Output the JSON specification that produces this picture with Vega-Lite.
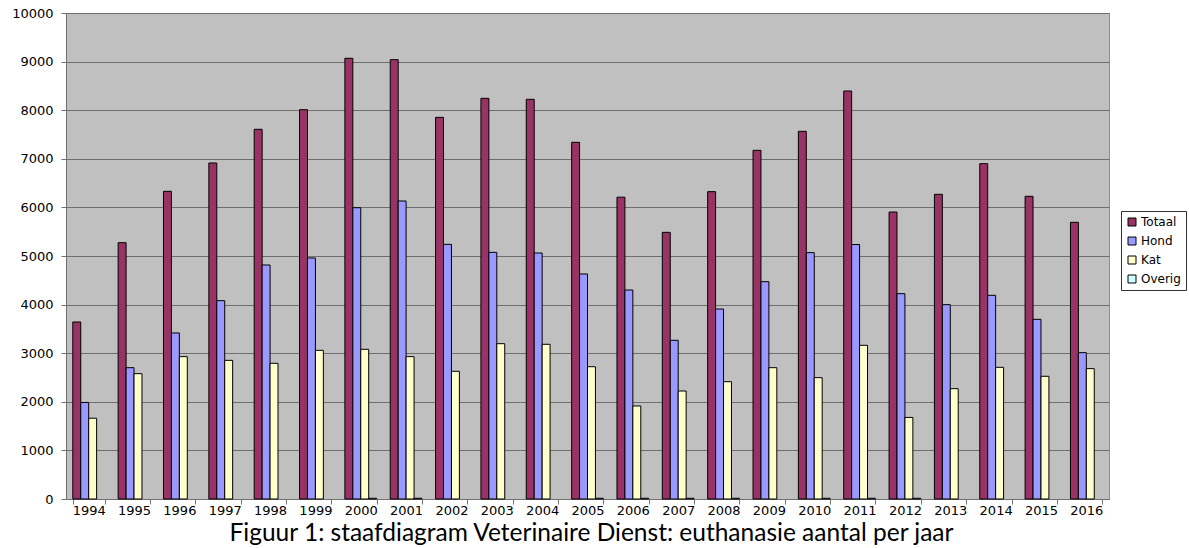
{
  "$schema": "https://vega.github.io/schema/vega-lite/v6.json",
  "width": 1043,
  "height": 486,
  "autosize": {"type": "none"},
  "padding": {"left": 66, "top": 13, "right": 80, "bottom": 49},
  "background": "white",
  "title": {
    "text": "Figuur 1: staafdiagram Veterinaire Dienst: euthanasie aantal per jaar",
    "orient": "bottom",
    "anchor": "middle",
    "font": "Lato",
    "fontSize": 24.5,
    "fontWeight": "normal",
    "color": "black",
    "offset": 5,
    "dx": 4
  },
  "config": {
    "view": {"fill": "#C0C0C0", "stroke": "#8c8c8c", "strokeWidth": 1},
    "axis": {"labelFont": "DejaVu Sans", "labelFontSize": 13, "labelColor": "black", "domainColor": "#707070", "tickColor": "#707070", "title": null}
  },
  "data": {
    "values": [
      {"jaar": "1994", "soort": "Totaal", "aantal": 3642},
      {"jaar": "1994", "soort": "Hond", "aantal": 1986},
      {"jaar": "1994", "soort": "Kat", "aantal": 1662},
      {"jaar": "1995", "soort": "Totaal", "aantal": 5274},
      {"jaar": "1995", "soort": "Hond", "aantal": 2702},
      {"jaar": "1995", "soort": "Kat", "aantal": 2579},
      {"jaar": "1996", "soort": "Totaal", "aantal": 6331},
      {"jaar": "1996", "soort": "Hond", "aantal": 3416},
      {"jaar": "1996", "soort": "Kat", "aantal": 2929},
      {"jaar": "1997", "soort": "Totaal", "aantal": 6914},
      {"jaar": "1997", "soort": "Hond", "aantal": 4081},
      {"jaar": "1997", "soort": "Kat", "aantal": 2853},
      {"jaar": "1998", "soort": "Totaal", "aantal": 7607},
      {"jaar": "1998", "soort": "Hond", "aantal": 4815},
      {"jaar": "1998", "soort": "Kat", "aantal": 2792},
      {"jaar": "1999", "soort": "Totaal", "aantal": 8011},
      {"jaar": "1999", "soort": "Hond", "aantal": 4959},
      {"jaar": "1999", "soort": "Kat", "aantal": 3059},
      {"jaar": "2000", "soort": "Totaal", "aantal": 9068},
      {"jaar": "2000", "soort": "Hond", "aantal": 5994},
      {"jaar": "2000", "soort": "Kat", "aantal": 3080},
      {"jaar": "2000", "soort": "Overig", "aantal": 15},
      {"jaar": "2001", "soort": "Totaal", "aantal": 9040},
      {"jaar": "2001", "soort": "Hond", "aantal": 6132},
      {"jaar": "2001", "soort": "Kat", "aantal": 2929},
      {"jaar": "2001", "soort": "Overig", "aantal": 15},
      {"jaar": "2002", "soort": "Totaal", "aantal": 7853},
      {"jaar": "2002", "soort": "Hond", "aantal": 5240},
      {"jaar": "2002", "soort": "Kat", "aantal": 2627},
      {"jaar": "2003", "soort": "Totaal", "aantal": 8244},
      {"jaar": "2003", "soort": "Hond", "aantal": 5075},
      {"jaar": "2003", "soort": "Kat", "aantal": 3196},
      {"jaar": "2004", "soort": "Totaal", "aantal": 8224},
      {"jaar": "2004", "soort": "Hond", "aantal": 5062},
      {"jaar": "2004", "soort": "Kat", "aantal": 3183},
      {"jaar": "2005", "soort": "Totaal", "aantal": 7339},
      {"jaar": "2005", "soort": "Hond", "aantal": 4630},
      {"jaar": "2005", "soort": "Kat", "aantal": 2722},
      {"jaar": "2005", "soort": "Overig", "aantal": 15},
      {"jaar": "2006", "soort": "Totaal", "aantal": 6210},
      {"jaar": "2006", "soort": "Hond", "aantal": 4300},
      {"jaar": "2006", "soort": "Kat", "aantal": 1914},
      {"jaar": "2006", "soort": "Overig", "aantal": 15},
      {"jaar": "2007", "soort": "Totaal", "aantal": 5487},
      {"jaar": "2007", "soort": "Hond", "aantal": 3265},
      {"jaar": "2007", "soort": "Kat", "aantal": 2222},
      {"jaar": "2007", "soort": "Overig", "aantal": 15},
      {"jaar": "2008", "soort": "Totaal", "aantal": 6324},
      {"jaar": "2008", "soort": "Hond", "aantal": 3909},
      {"jaar": "2008", "soort": "Kat", "aantal": 2414},
      {"jaar": "2008", "soort": "Overig", "aantal": 15},
      {"jaar": "2009", "soort": "Totaal", "aantal": 7174},
      {"jaar": "2009", "soort": "Hond", "aantal": 4472},
      {"jaar": "2009", "soort": "Kat", "aantal": 2702},
      {"jaar": "2010", "soort": "Totaal", "aantal": 7565},
      {"jaar": "2010", "soort": "Hond", "aantal": 5069},
      {"jaar": "2010", "soort": "Kat", "aantal": 2497},
      {"jaar": "2010", "soort": "Overig", "aantal": 15},
      {"jaar": "2011", "soort": "Totaal", "aantal": 8395},
      {"jaar": "2011", "soort": "Hond", "aantal": 5236},
      {"jaar": "2011", "soort": "Kat", "aantal": 3162},
      {"jaar": "2011", "soort": "Overig", "aantal": 15},
      {"jaar": "2012", "soort": "Totaal", "aantal": 5905},
      {"jaar": "2012", "soort": "Hond", "aantal": 4225},
      {"jaar": "2012", "soort": "Kat", "aantal": 1678},
      {"jaar": "2012", "soort": "Overig", "aantal": 15},
      {"jaar": "2013", "soort": "Totaal", "aantal": 6269},
      {"jaar": "2013", "soort": "Hond", "aantal": 3999},
      {"jaar": "2013", "soort": "Kat", "aantal": 2270},
      {"jaar": "2014", "soort": "Totaal", "aantal": 6900},
      {"jaar": "2014", "soort": "Hond", "aantal": 4191},
      {"jaar": "2014", "soort": "Kat", "aantal": 2709},
      {"jaar": "2015", "soort": "Totaal", "aantal": 6228},
      {"jaar": "2015", "soort": "Hond", "aantal": 3697},
      {"jaar": "2015", "soort": "Kat", "aantal": 2525},
      {"jaar": "2016", "soort": "Totaal", "aantal": 5693},
      {"jaar": "2016", "soort": "Hond", "aantal": 3011},
      {"jaar": "2016", "soort": "Kat", "aantal": 2682}
    ]
  },
  "mark": {"type": "bar", "stroke": "black", "strokeWidth": 1},
  "encoding": {
    "x": {
      "field": "jaar",
      "type": "nominal",
      "scale": {"paddingInner": 0.3, "paddingOuter": 0.15},
      "axis": {"labelAngle": 0, "tickBand": "extent", "tickSize": 5, "labelPadding": 0, "grid": false, "domain": true}
    },
    "xOffset": {
      "field": "soort",
      "type": "nominal",
      "scale": {"domain": ["Totaal", "Hond", "Kat", "Overig"], "paddingInner": 0, "paddingOuter": 0}
    },
    "y": {
      "field": "aantal",
      "type": "quantitative",
      "scale": {"domain": [0, 10000], "nice": false},
      "axis": {"values": [0, 1000, 2000, 3000, 4000, 5000, 6000, 7000, 8000, 9000, 10000], "grid": true, "gridColor": "#6e6e6e", "gridWidth": 1, "gridOpacity": 1, "tickSize": 5, "labelPadding": 8, "format": "d"}
    },
    "color": {
      "field": "soort",
      "type": "nominal",
      "scale": {"domain": ["Totaal", "Hond", "Kat", "Overig"], "range": ["#993366", "#9999FF", "#FFFFCC", "#CCFFFF"]},
      "legend": {
        "title": null,
        "orient": "none",
        "legendX": 1055,
        "legendY": 198,
        "symbolType": "square",
        "symbolSize": 64,
        "symbolStrokeColor": "black",
        "symbolStrokeWidth": 1,
        "labelFont": "DejaVu Sans",
        "labelFontSize": 12,
        "labelColor": "black",
        "labelOffset": 3,
        "rowPadding": 7,
        "strokeColor": "#333333",
        "fillColor": "white",
        "padding": 5
      }
    }
  }
}
